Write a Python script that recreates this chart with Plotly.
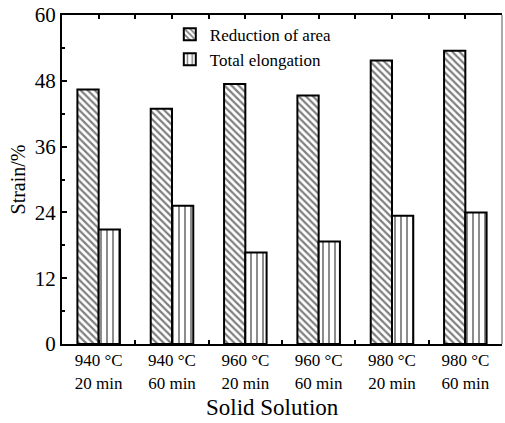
import plotly.graph_objects as go

categories = ["940 °C<br>20 min", "940 °C<br>60 min", "960 °C<br>20 min",
              "960 °C<br>60 min", "980 °C<br>20 min", "980 °C<br>60 min"]
reduction_of_area = [46.4, 42.9, 47.4, 45.3, 51.7, 53.5]
total_elongation = [20.9, 25.2, 16.7, 18.7, 23.4, 24.0]
y_ticks = [0, 12, 24, 36, 48, 60]

xpos = list(range(len(categories)))
font_family = "Liberation Serif"

fig = go.Figure()
fig.add_trace(go.Bar(
    x=xpos, y=reduction_of_area, name="Reduction of area",
    marker=dict(color="white", line=dict(color="black", width=2),
                pattern=dict(shape="\\", fgcolor="black", bgcolor="white",
                             size=5, solidity=0.45)),
))
fig.add_trace(go.Bar(
    x=xpos, y=total_elongation, name="Total elongation",
    marker=dict(color="white", line=dict(color="black", width=2),
                pattern=dict(shape="|", fgcolor="black", bgcolor="white",
                             size=6, solidity=0.3)),
))

fig.update_layout(
    width=505, height=423,
    margin=dict(l=62, r=3, t=15, b=79),
    paper_bgcolor="white", plot_bgcolor="white",
    barmode="group", bargap=0.42, bargroupgap=0,
    font=dict(family=font_family, color="black"),
    legend=dict(x=0.245, y=0.995, xanchor="left", yanchor="top",
                bgcolor="rgba(0,0,0,0)", font=dict(size=17, family=font_family),
                tracegroupgap=0, itemwidth=30),
    showlegend=True,
)
fig.update_xaxes(
    range=[-0.5, 5.5], tickvals=xpos, ticktext=categories,
    ticks="inside", ticklen=4, tickwidth=1.5, tickcolor="black",
    minor=dict(tickvals=[i + 0.5 for i in range(-1, 6)], ticks="inside",
               ticklen=4, tickwidth=1.5, tickcolor="black"),
    showline=True, linecolor="black", linewidth=2, mirror="allticks",
    showgrid=False, zeroline=False,
    tickfont=dict(size=17, family=font_family),
)
fig.update_yaxes(
    range=[0, 60], tickvals=y_ticks,
    ticks="inside", ticklen=5, tickwidth=1.5, tickcolor="black",
    minor=dict(dtick=6, tick0=0, ticks="inside", ticklen=3, tickwidth=1.5,
               tickcolor="black"),
    showline=True, linecolor="black", linewidth=2, mirror=False,
    showgrid=False, zeroline=False,
    tickfont=dict(size=21, family=font_family),
    title=dict(text="Strain/%", font=dict(size=20, family=font_family), standoff=4),
)
fig.add_shape(type="line", xref="paper", yref="paper", x0=1, x1=1, y0=0, y1=1,
              line=dict(color="#555555", width=1))
fig.add_annotation(text="Solid Solution", xref="paper", yref="paper",
                   x=(272 - 62) / 440, y=0, yshift=-63, xanchor="center",
                   yanchor="middle", showarrow=False,
                   font=dict(size=23, family=font_family))

fig.write_html("out.html")
